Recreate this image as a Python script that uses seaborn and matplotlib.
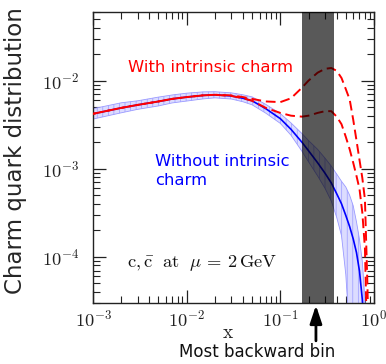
import numpy as np
import matplotlib
matplotlib.use("Agg")
import matplotlib.pyplot as plt
import seaborn as sns

# ---- charm PDF values, c = cbar at mu = 2 GeV ----
x_grid = [0.001, 0.002, 0.003, 0.005, 0.007, 0.01, 0.015, 0.02, 0.03, 0.04,
          0.05, 0.07, 0.1, 0.13, 0.17, 0.2, 0.25, 0.3, 0.35, 0.4,
          0.45, 0.5, 0.55, 0.6, 0.65, 0.7, 0.75, 0.8, 0.85]

# perturbative charm (no intrinsic component): central value and uncertainty band
pert_central = [0.0042, 0.0049, 0.0053, 0.0058, 0.0062, 0.0065, 0.0068, 0.0069, 0.0067, 0.0063,
                0.0059, 0.0048, 0.0037, 0.0028, 0.0020, 0.0016, 0.00117, 0.00089, 0.00069, 0.00052,
                0.00040, 0.000295, 0.00022, 0.00016, 0.000112, 0.000069, 0.000033, 0.000010, 0.000002]
pert_upper = [0.0048, 0.0056, 0.0059, 0.0065, 0.00687, 0.0072, 0.00745, 0.00748, 0.00726, 0.0069,
              0.00653, 0.00537, 0.00422, 0.00331, 0.00251, 0.00209, 0.00166, 0.00132, 0.00107, 0.00087,
              0.00072, 0.00062, 0.00050, 0.00038, 0.00025, 0.000158, 0.000089, 0.000033, 0.000005]
pert_lower = [0.00366, 0.00431, 0.00472, 0.00516, 0.00558, 0.00586, 0.0062, 0.00637, 0.00618, 0.00575,
              0.00531, 0.00427, 0.00327, 0.0024, 0.00158, 0.0012, 0.00083, 0.0006, 0.00043, 0.00028,
              0.000174, 0.000063, 0.0000126, 0.000001, 0.000001, 0.000001, 0.000001, 0.000001, 0.000001]

# intrinsic-charm scenarios
x_ic = [0.001, 0.002, 0.003, 0.005, 0.007, 0.01, 0.015, 0.02, 0.03, 0.04,
        0.05, 0.07, 0.1, 0.13, 0.17, 0.2, 0.25, 0.3, 0.35, 0.4,
        0.45, 0.5, 0.55, 0.6, 0.65, 0.7, 0.75, 0.8, 0.85, 0.9]
ic_strong = [0.0042, 0.0049, 0.0053, 0.0058, 0.0062, 0.0065, 0.0068, 0.0069, 0.0068, 0.0065,
             0.0062, 0.0058, 0.0057, 0.0063, 0.0083, 0.0100, 0.0123, 0.0136, 0.0139, 0.0129,
             0.0107, 0.0080, 0.0061, 0.0036, 0.0021, 0.00126, 0.00079, 0.00045, 0.00005, 0.000003]
ic_weak = [0.0042, 0.0049, 0.0053, 0.0058, 0.0062, 0.0065, 0.0068, 0.0069, 0.0067, 0.0063,
           0.0059, 0.0049, 0.0043, 0.0040, 0.0039, 0.0040, 0.0043, 0.0045, 0.0045, 0.0039,
           0.0032, 0.0023, 0.00166, 0.00117, 0.00083, 0.00059, 0.00032, 0.000126, 0.000008, 0.000001]

# most backward rapidity bin in x
bin_lo, bin_hi = 0.17, 0.37
arrow_x = 0.24

x_ticks = [1e-3, 1e-2, 1e-1, 1.0]
x_tick_labels = [r"$10^{-3}$", r"$10^{-2}$", r"$10^{-1}$", r"$10^{0}$"]
y_ticks = [1e-4, 1e-3, 1e-2]
y_tick_labels = [r"$10^{-4}$", r"$10^{-3}$", r"$10^{-2}$"]

# ---- style ----
sns.set_style("ticks")
plt.rcParams["font.family"] = ["DejaVu Sans"]
plt.rcParams["mathtext.fontset"] = "cm"
plt.rcParams["hatch.linewidth"] = 0.5

fig = plt.figure(figsize=(3.86, 3.64), dpi=100)
ax = fig.add_axes([93 / 386, 1 - 303 / 364, (374 - 93) / 386, (303 - 12) / 364])

# uncertainty band of the perturbative charm
ax.fill_between(x_grid, pert_lower, pert_upper, facecolor="#dcdcff",
                edgecolor="#9a9aff", hatch="|||", linewidth=0.6, zorder=1)
sns.lineplot(x=x_grid, y=pert_central, ax=ax, color="#0000ff", lw=1.2, zorder=2)

# intrinsic-charm curves
sns.lineplot(x=x_ic, y=ic_strong, ax=ax, color="#ff0000", lw=1.4,
             linestyle=(0, (5, 2.5)), zorder=3)
sns.lineplot(x=x_ic, y=ic_weak, ax=ax, color="#ff0000", lw=1.4,
             linestyle=(3.5, (5, 2.5)), zorder=3)

# shaded region for the most backward bin
ax.axvspan(bin_lo, bin_hi, color="black", alpha=0.65, lw=0, zorder=4)

ax.set_xscale("log")
ax.set_yscale("log")
ax.set_xlim(1e-3, 1.0)
ax.set_ylim(3.0e-5, 0.06)

ax.set_xticks(x_ticks, x_tick_labels)
ax.set_yticks(y_ticks, y_tick_labels)
ax.xaxis.set_minor_locator(matplotlib.ticker.LogLocator(base=10, subs=np.arange(2, 10), numticks=20))
ax.yaxis.set_minor_locator(matplotlib.ticker.LogLocator(base=10, subs=np.arange(2, 10), numticks=20))
ax.xaxis.set_minor_formatter(matplotlib.ticker.NullFormatter())
ax.yaxis.set_minor_formatter(matplotlib.ticker.NullFormatter())

ax.tick_params(which="both", direction="in", top=True, right=True, colors="#222222")
ax.tick_params(which="major", length=9.5, width=0.9, labelsize=13.2)
ax.tick_params(which="minor", length=4.7, width=0.8)
ax.tick_params(axis="y", which="major", pad=10)
ax.tick_params(axis="x", which="major", pad=5)
for sp in ax.spines.values():
    sp.set_linewidth(1.0)
    sp.set_color("#222222")

ax.set_xlabel(r"$\mathrm{x}$", fontsize=14)
ax.xaxis.set_label_coords((228 - 93) / 281, (303 - 332) / 291)
ax.xaxis.label.set_va("center")
ax.set_ylabel("Charm quark distribution", fontsize=16.5)
ax.yaxis.set_label_coords((16 - 93) / 281, (303 - 151) / 291)
ax.yaxis.label.set_va("center")

ax.text(0.42, 0.808, "With intrinsic charm", transform=ax.transAxes,
        ha="center", va="center", color="#ff0000", fontsize=11.8, zorder=6)
ax.text(0.221, 0.454, "Without intrinsic\ncharm", transform=ax.transAxes,
        ha="left", va="center", color="#0000ff", fontsize=11.8, linespacing=1.3, zorder=6)
ax.text(0.121, 0.137, r"$\mathrm{c},\bar{\mathrm{c}}\ \ \mathrm{at}\ \ \mu\, =\, 2\,\mathrm{GeV}$",
        transform=ax.transAxes, ha="left", va="center", color="#111111", fontsize=13.3, zorder=6)

ax.annotate("", xy=(arrow_x, -0.008), xycoords=("data", "axes fraction"),
            xytext=(arrow_x, -0.13), textcoords=("data", "axes fraction"),
            arrowprops=dict(arrowstyle="-|>,head_length=0.6,head_width=0.2",
                            color="black", lw=2, mutation_scale=18, shrinkA=0, shrinkB=0),
            annotation_clip=False)
fig.text(257 / 386, 1 - 352 / 364, "Most backward bin", ha="center", va="center",
         fontsize=12, color="#111111")

fig.savefig("out.png", dpi=100)
